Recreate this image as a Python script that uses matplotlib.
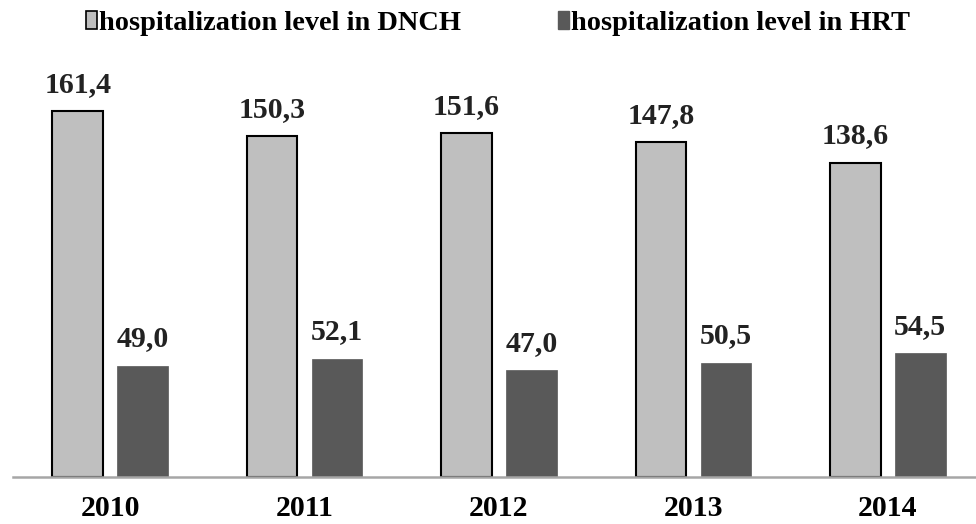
import matplotlib.pyplot as plt
import matplotlib.patches as mpatches
import numpy as np

years = ["2010", "2011", "2012", "2013", "2014"]
dnch = [161.4, 150.3, 151.6, 147.8, 138.6]
hrt = [49.0, 52.1, 47.0, 50.5, 54.5]

light = "#bfbfbf"
dark = "#595959"
font = "Liberation Serif"

fig = plt.figure(figsize=(9.76, 5.24), dpi=100)
# axes runs a little past the right edge, like the original
ax = fig.add_axes([13 / 976, 47 / 524, 972 / 976, 417 / 524])

x = np.arange(len(years))
w = 0.26
b1 = ax.bar(x - 0.167, dnch, w, color=light, edgecolor="black", linewidth=1.5)
b2 = ax.bar(x + 0.167, hrt, w, color=dark, edgecolor=dark, linewidth=0.5)

for bars, vals in [(b1, dnch), (b2, hrt)]:
    for r, v in zip(bars, vals):
        ax.annotate(f"{v:.1f}".replace(".", ","),
                    (r.get_x() + r.get_width() / 2, r.get_height()),
                    xytext=(0, 14), textcoords="offset points",
                    ha="center", va="baseline", fontsize=21.5,
                    fontweight="bold", family=font, color="#222222")

ax.set_xlim(-0.5, 4.5)
ax.set_ylim(0, 184)
ax.set_xticks(x)
ax.set_xticklabels(years, fontsize=21.5, fontweight="bold", family=font)
ax.tick_params(axis="x", length=0, pad=13)
ax.set_yticks([])
for s in ["top", "right", "left"]:
    ax.spines[s].set_visible(False)
ax.spines["bottom"].set_color("#a6a6a6")
ax.spines["bottom"].set_linewidth(1.8)

handles = [mpatches.Patch(facecolor=light, edgecolor="black", linewidth=1.2),
           mpatches.Patch(facecolor=dark, edgecolor=dark)]
labels = ["hospitalization level in DNCH", "hospitalization level in HRT"]
fig.legend(handles, labels, loc="center", bbox_to_anchor=(498 / 976, 1 - 23 / 524),
           ncol=2, frameon=False, handlelength=0.4, handleheight=0.6,
           handletextpad=0.08, columnspacing=3.4,
           prop={"family": font, "weight": "bold", "size": 20.4})

fig.savefig("out.png", dpi=100)
